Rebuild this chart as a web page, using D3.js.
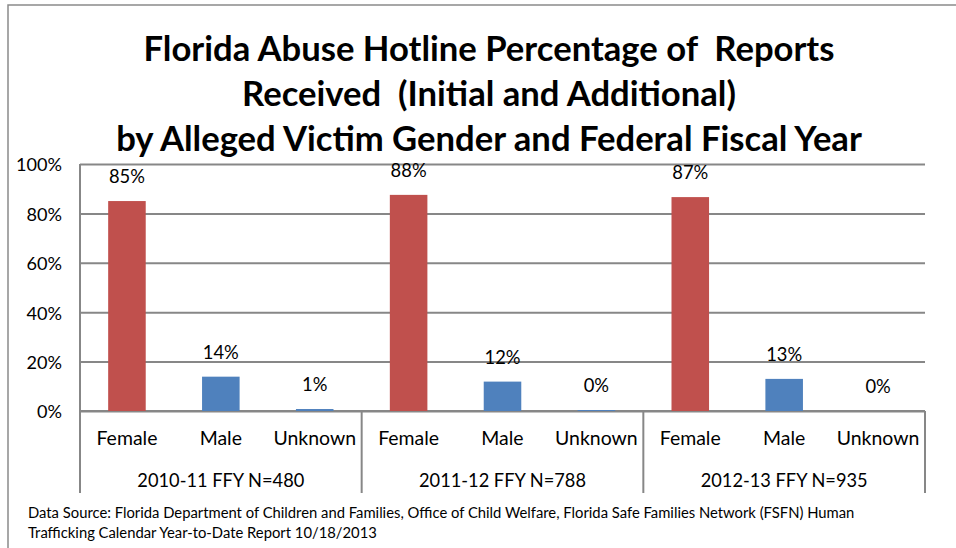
<!DOCTYPE html>
<html>
<head>
<meta charset="utf-8">
<script src="https://cdn.jsdelivr.net/npm/d3@7"></script>
<style>
	body { margin: 0; background: #ffffff; }
	svg { display: block; }
</style>
</head>
<body>
<script>
const title_lines = ['Florida Abuse Hotline Percentage of  Reports',
	'Received  (Initial and Additional)',
	'by Alleged Victim Gender and Federal Fiscal Year'];
const years = ['2010-11 FFY N=480', '2011-12 FFY N=788', '2012-13 FFY N=935'];
const genders = ['Female', 'Male', 'Unknown'];
const female_values = [85.0, 87.5, 86.6];
const male_values = [13.9, 11.9, 13.0];
const unknown_values = [0.8, 0.4, 0.0];
const y_ticks = [0, 20, 40, 60, 80, 100];
const source_lines = ['Data Source: Florida Department of Children and Families, Office of Child Welfare, Florida Safe Families Network (FSFN) Human',
	'Trafficking Calendar Year-to-Date Report 10/18/2013'];
const colors = {Female: '#c0504d', Male: '#4f81bd', Unknown: '#4f81bd'};

function init()
{
	const width = 956, height = 548;
	const font = 'Lato, "Open Sans", sans-serif';
	const grid_color = '#878787';

	const svg = d3.select('body').append('svg')
		.attr('width', width)
		.attr('height', height);

	// size a font so that a sample string takes the given width
	function fit(sample, weight, target)
	{
		const t = svg.append('text')
			.style('font-family', font)
			.style('font-weight', weight)
			.style('font-size', '100px')
			.style('white-space', 'pre')
			.text(sample);
		const w = t.node().getComputedTextLength();
		t.remove();
		return 100 * target / w;
	}

	const title_size = fit(title_lines[2], 'bold', 746);
	const tick_size = fit('100%', 'normal', 46);
	const cat_size = fit('Female', 'normal', 61);
	const group_size = fit(years[2], 'normal', 167);
	const label_size = fit('85%', 'normal', 36);
	const source_size = fit(source_lines[0], 'normal', 827);

	// outer frame (right and bottom edges run off the picture)
	svg.append('rect')
		.attr('x', 8).attr('y', 5)
		.attr('width', 1000).attr('height', 600)
		.attr('fill', 'none')
		.attr('stroke', '#8a8a8a')
		.attr('stroke-width', 1.5);

	svg.append('g')
		.selectAll('text')
		.data(title_lines)
		.enter()
		.append('text')
			.attr('x', 489)
			.attr('y', function(d, i) { return 61 + i * 45; })
			.attr('text-anchor', 'middle')
			.style('font-family', font)
			.style('font-weight', 'bold')
			.style('font-size', title_size + 'px')
			.style('white-space', 'pre')
			.style('fill', '#000')
			.text(function(d) { return d; });

	const plot = {left: 80, right: 925, top: 164, bottom: 411, axis_bottom: 493};

	const rows = [];
	years.forEach(function(year, i)
	{
		rows.push({year: year, gender: 'Female', value: female_values[i]});
		rows.push({year: year, gender: 'Male', value: male_values[i]});
		rows.push({year: year, gender: 'Unknown', value: unknown_values[i]});
	});

	var x0 = d3.scaleBand()
		.domain(years)
		.range([plot.left, plot.right])
		.padding(0);

	var x1 = d3.scaleBand()
		.domain(genders)
		.range([0, x0.bandwidth()])
		.paddingInner(0.6)
		.paddingOuter(0.3);

	var y = d3.scaleLinear()
		.domain([0, 100])
		.range([plot.bottom, plot.top]);

	// gridlines and y tick labels
	var y_axis = svg.append('g')
		.attr('transform', 'translate(' + plot.left + ',0)')
		.call(d3.axisLeft(y)
			.tickValues(y_ticks)
			.tickSize(-(plot.right - plot.left))
			.tickPadding(18)
			.tickFormat(function(d) { return d + '%'; }));
	y_axis.select('.domain').remove();
	y_axis.selectAll('line')
		.attr('stroke', grid_color)
		.attr('stroke-width', 2);
	y_axis.selectAll('text')
		.attr('dy', '0.38em')
		.style('font-family', font)
		.style('font-size', tick_size + 'px')
		.style('fill', '#000');

	// axis lines: y axis, zero line and group separators
	svg.append('line')
		.attr('x1', plot.left).attr('x2', plot.left)
		.attr('y1', plot.top).attr('y2', plot.axis_bottom)
		.attr('stroke', grid_color).attr('stroke-width', 2);
	svg.append('line')
		.attr('x1', plot.left).attr('x2', plot.right)
		.attr('y1', plot.bottom).attr('y2', plot.bottom)
		.attr('stroke', grid_color).attr('stroke-width', 2);
	svg.append('g')
		.selectAll('line')
		.data(years)
		.enter()
		.append('line')
			.attr('x1', function(d) { return x0(d) + x0.bandwidth(); })
			.attr('x2', function(d) { return x0(d) + x0.bandwidth(); })
			.attr('y1', plot.bottom)
			.attr('y2', plot.axis_bottom)
			.attr('stroke', grid_color)
			.attr('stroke-width', 2);

	// bars
	svg.append('g')
		.selectAll('rect')
		.data(rows)
		.enter()
		.append('rect')
			.attr('x', function(d) { return x0(d.year) + x1(d.gender); })
			.attr('y', function(d) { return y(d.value); })
			.attr('width', x1.bandwidth())
			.attr('height', function(d) { return y(0) - y(d.value); })
			.attr('fill', function(d) { return colors[d.gender]; });

	// value labels
	svg.append('g')
		.selectAll('text')
		.data(rows)
		.enter()
		.append('text')
			.attr('x', function(d) { return x0(d.year) + x1(d.gender) + x1.bandwidth() / 2; })
			.attr('y', function(d) { return y(d.value) - 18; })
			.attr('text-anchor', 'middle')
			.style('font-family', font)
			.style('font-size', label_size + 'px')
			.style('fill', '#000')
			.text(function(d) { return Math.round(d.value) + '%'; });

	// category labels
	svg.append('g')
		.selectAll('text')
		.data(rows)
		.enter()
		.append('text')
			.attr('x', function(d) { return x0(d.year) + x1(d.gender) + x1.bandwidth() / 2; })
			.attr('y', 445)
			.attr('text-anchor', 'middle')
			.style('font-family', font)
			.style('font-size', cat_size + 'px')
			.style('fill', '#000')
			.text(function(d) { return d.gender; });

	// group labels
	svg.append('g')
		.selectAll('text')
		.data(years)
		.enter()
		.append('text')
			.attr('x', function(d) { return x0(d) + x0.bandwidth() / 2; })
			.attr('y', 487)
			.attr('text-anchor', 'middle')
			.style('font-family', font)
			.style('font-size', group_size + 'px')
			.style('fill', '#000')
			.text(function(d) { return d; });

	// source note
	svg.append('g')
		.selectAll('text')
		.data(source_lines)
		.enter()
		.append('text')
			.attr('x', 28)
			.attr('y', function(d, i) { return 518 + i * 20; })
			.style('font-family', font)
			.style('font-size', source_size + 'px')
			.style('fill', '#000')
			.text(function(d) { return d; });
}
init();
</script>
</body>
</html>
